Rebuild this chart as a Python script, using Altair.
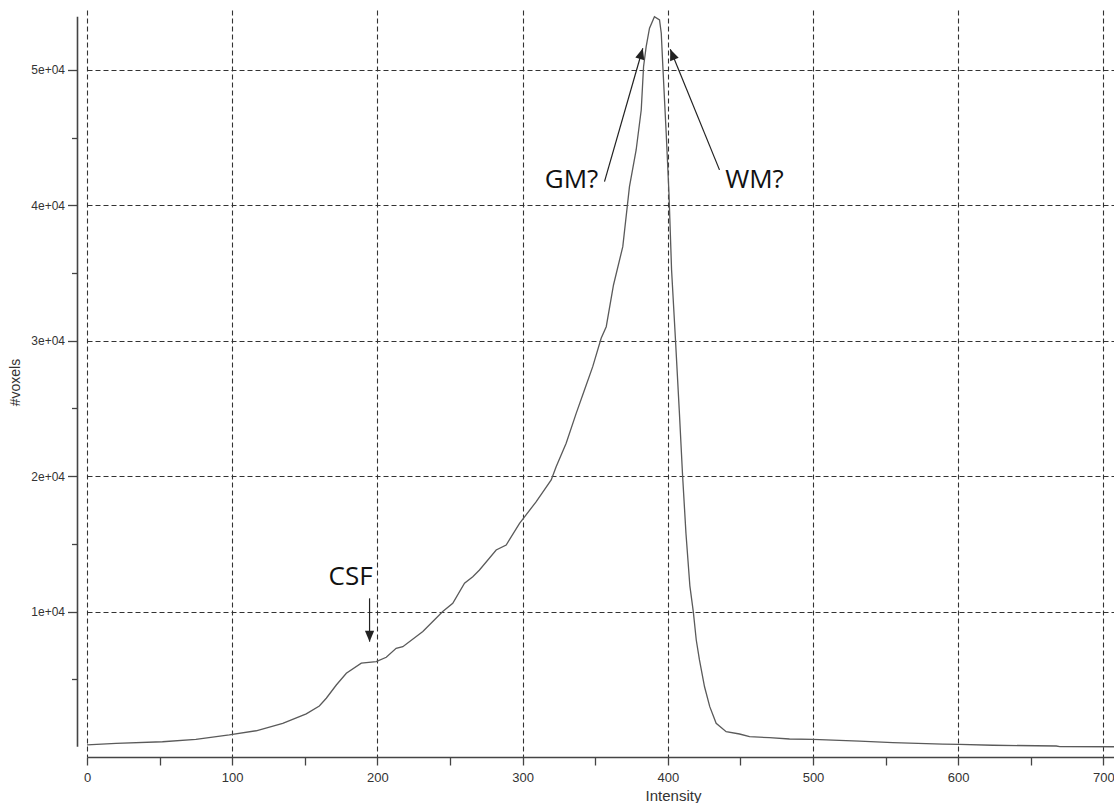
import altair as alt
import pandas as pd

# ---- curve ----
intensity = [0, 20, 52, 75, 98, 116.5, 134.8, 151, 160, 164.8, 171.7, 178.6, 188.9, 199.2,
             206.1, 212.9, 217.5, 231.3, 245, 251.9, 260, 265.7, 270.3, 281.8, 288.7, 297.9,
             309.4, 319.7, 323.1, 330, 336.9, 342.6, 348.3, 354.1, 357.6, 362.6, 369, 373.6,
             378.2, 381.7, 383.3, 385.1, 387.4, 390.8, 394.3, 395.5, 396.6, 398.9, 400.8,
             402.6, 405.3, 407.9, 410.2, 412.5, 415.2, 417.6, 419.6, 421.8, 425.3, 428.9,
             433.3, 440.2, 449.4, 456.3, 470, 483.8, 499.9, 532, 555, 589.4, 600.8, 623.8,
             667.5, 670, 707.3]
voxels = [150, 270, 390, 570, 890, 1200, 1750, 2450, 3030, 3600, 4580, 5450, 6190, 6310,
          6630, 7290, 7410, 8530, 10000, 10610, 12090, 12580, 13070, 14550, 14920, 16520,
          18120, 19720, 20700, 22430, 24640, 26360, 28090, 30180, 31040, 34120, 36950, 41380,
          44090, 47040, 50240, 51720, 53080, 53930, 53690, 52710, 50240, 45320, 40900,
          35230, 30040, 24860, 20010, 15790, 11900, 9960, 7900, 6430, 4450, 2980,
          1750, 1130, 960, 760, 690, 590, 570, 440, 320, 220, 200, 130,
          75, 30, 20]

# ---- annotations ----
note_text = ["GM?", "WM?", "CSF"]
note_x = [333.7, 459.7, 181.5]
note_y = [41870, 41870, 12540]

arrow_x = [356.4, 435.6, 194.6]
arrow_y = [41750, 42620, 10980]
arrow_x2 = [382.8, 401.7, 194.6]
arrow_y2 = [51600, 51525, 7780]
arrow_angle = [16, 338, 180]

# ---- ticks ----
x_major = [0, 100, 200, 300, 400, 500, 600, 700]
x_minor = [50, 150, 250, 350, 450, 550, 650]
y_major = [10000, 20000, 30000, 40000, 50000]
y_minor = [5000, 15000, 25000, 35000, 45000]

X_DOMAIN = [0, 707.3]
Y_DOMAIN = [-738, 54427]

curve = pd.DataFrame({"Intensity": intensity, "voxels": voxels})
notes = pd.DataFrame({"text": note_text, "x": note_x, "y": note_y})
arrows = pd.DataFrame({"x": arrow_x, "y": arrow_y, "x2": arrow_x2, "y2": arrow_y2,
                       "angle": arrow_angle})
axis_line = pd.DataFrame({"lo": [min(voxels)], "hi": [max(voxels)]})

xs = alt.Scale(domain=X_DOMAIN, nice=False, zero=False)
ys = alt.Scale(domain=Y_DOMAIN, nice=False, zero=False)

LABEL_FONT = "Liberation Sans"
AX_COLOR = "#444444"
TXT_COLOR = "#333333"

main = alt.Chart(curve).mark_line(color="#5a5a5a", strokeWidth=1.3).encode(
    x=alt.X("Intensity:Q", scale=xs, axis=alt.Axis(
        values=x_major, grid=True, gridDash=[5, 3], gridColor="#333333", gridWidth=1.1,
        tickSize=8, tickColor=AX_COLOR, tickWidth=1.3, domainColor=AX_COLOR, domainWidth=1.6,
        labelFont=LABEL_FONT, labelFontSize=13, labelColor=TXT_COLOR, labelPadding=6,
        labelFlush=False, title="Intensity", titleFont=LABEL_FONT, titleFontSize=15,
        titleFontWeight="normal", titleColor=TXT_COLOR, titleX=586, titleY=38,
        titleBaseline="middle", titleAlign="center")),
    y=alt.Y("voxels:Q", scale=ys, axis=alt.Axis(
        values=y_major, grid=True, gridDash=[5, 3], gridColor="#333333", gridWidth=1.1,
        domain=False, offset=9.5, tickSize=10, tickColor=AX_COLOR, tickWidth=1.3,
        labelExpr="datum.value / 10000 + 'e+04'", labelFont=LABEL_FONT, labelFontSize=12,
        labelColor=TXT_COLOR, labelPadding=3, title="#voxels", titleFont=LABEL_FONT,
        titleFontSize=14, titleFontWeight="normal", titleColor=TXT_COLOR,
        titleX=-62.5, titleY=372, titleBaseline="middle", titleAlign="center",
        orient="left")),
)

minor = alt.Chart(curve).mark_line(opacity=0).encode(
    x=alt.X("Intensity:Q", scale=xs, axis=alt.Axis(
        values=x_minor, grid=False, domain=False, labels=False, tickSize=8,
        tickColor=AX_COLOR, tickWidth=1.3, title=None, orient="bottom")),
    y=alt.Y("voxels:Q", scale=ys, axis=alt.Axis(
        values=y_minor, grid=False, domain=False, labels=False, tickSize=6,
        tickColor=AX_COLOR, tickWidth=1.3, title=None, offset=9.5, orient="left")),
)

yline = alt.Chart(axis_line).mark_rule(color=AX_COLOR, strokeWidth=1.6).encode(
    x=alt.value(-9.5),
    y=alt.Y("lo:Q", scale=ys, axis=None),
    y2="hi:Q",
)

shafts = alt.Chart(arrows).mark_rule(color="#222222", strokeWidth=1.2).encode(
    x=alt.X("x:Q", scale=xs, axis=None),
    y=alt.Y("y:Q", scale=ys, axis=None),
    x2="x2:Q",
    y2="y2:Q",
)

heads = alt.Chart(arrows).mark_point(
    shape="M0,0 L-0.42,1 L0.42,1 Z", filled=True, size=484, color="#222222", opacity=1
).encode(
    x=alt.X("x2:Q", scale=xs, axis=None),
    y=alt.Y("y2:Q", scale=ys, axis=None),
    angle=alt.Angle("angle:Q", scale=None),
)

labels = alt.Chart(notes).mark_text(
    font="Open Sans", fontSize=26, color="#111111", align="center", baseline="middle"
).encode(
    x=alt.X("x:Q", scale=xs, axis=None),
    y=alt.Y("y:Q", scale=ys, axis=None),
    text="text:N",
)

chart = alt.layer(main, minor, yline, shafts, heads, labels).resolve_axis(
    x="independent", y="independent"
).properties(
    width=1027, height=747,
    padding={"left": 87, "top": 10, "right": 0, "bottom": 46},
    autosize=alt.AutoSizeParams(type="none"),
    background="white",
).configure_view(stroke=None)

chart.save("out.html", embed_options={"renderer": "svg", "actions": False})
